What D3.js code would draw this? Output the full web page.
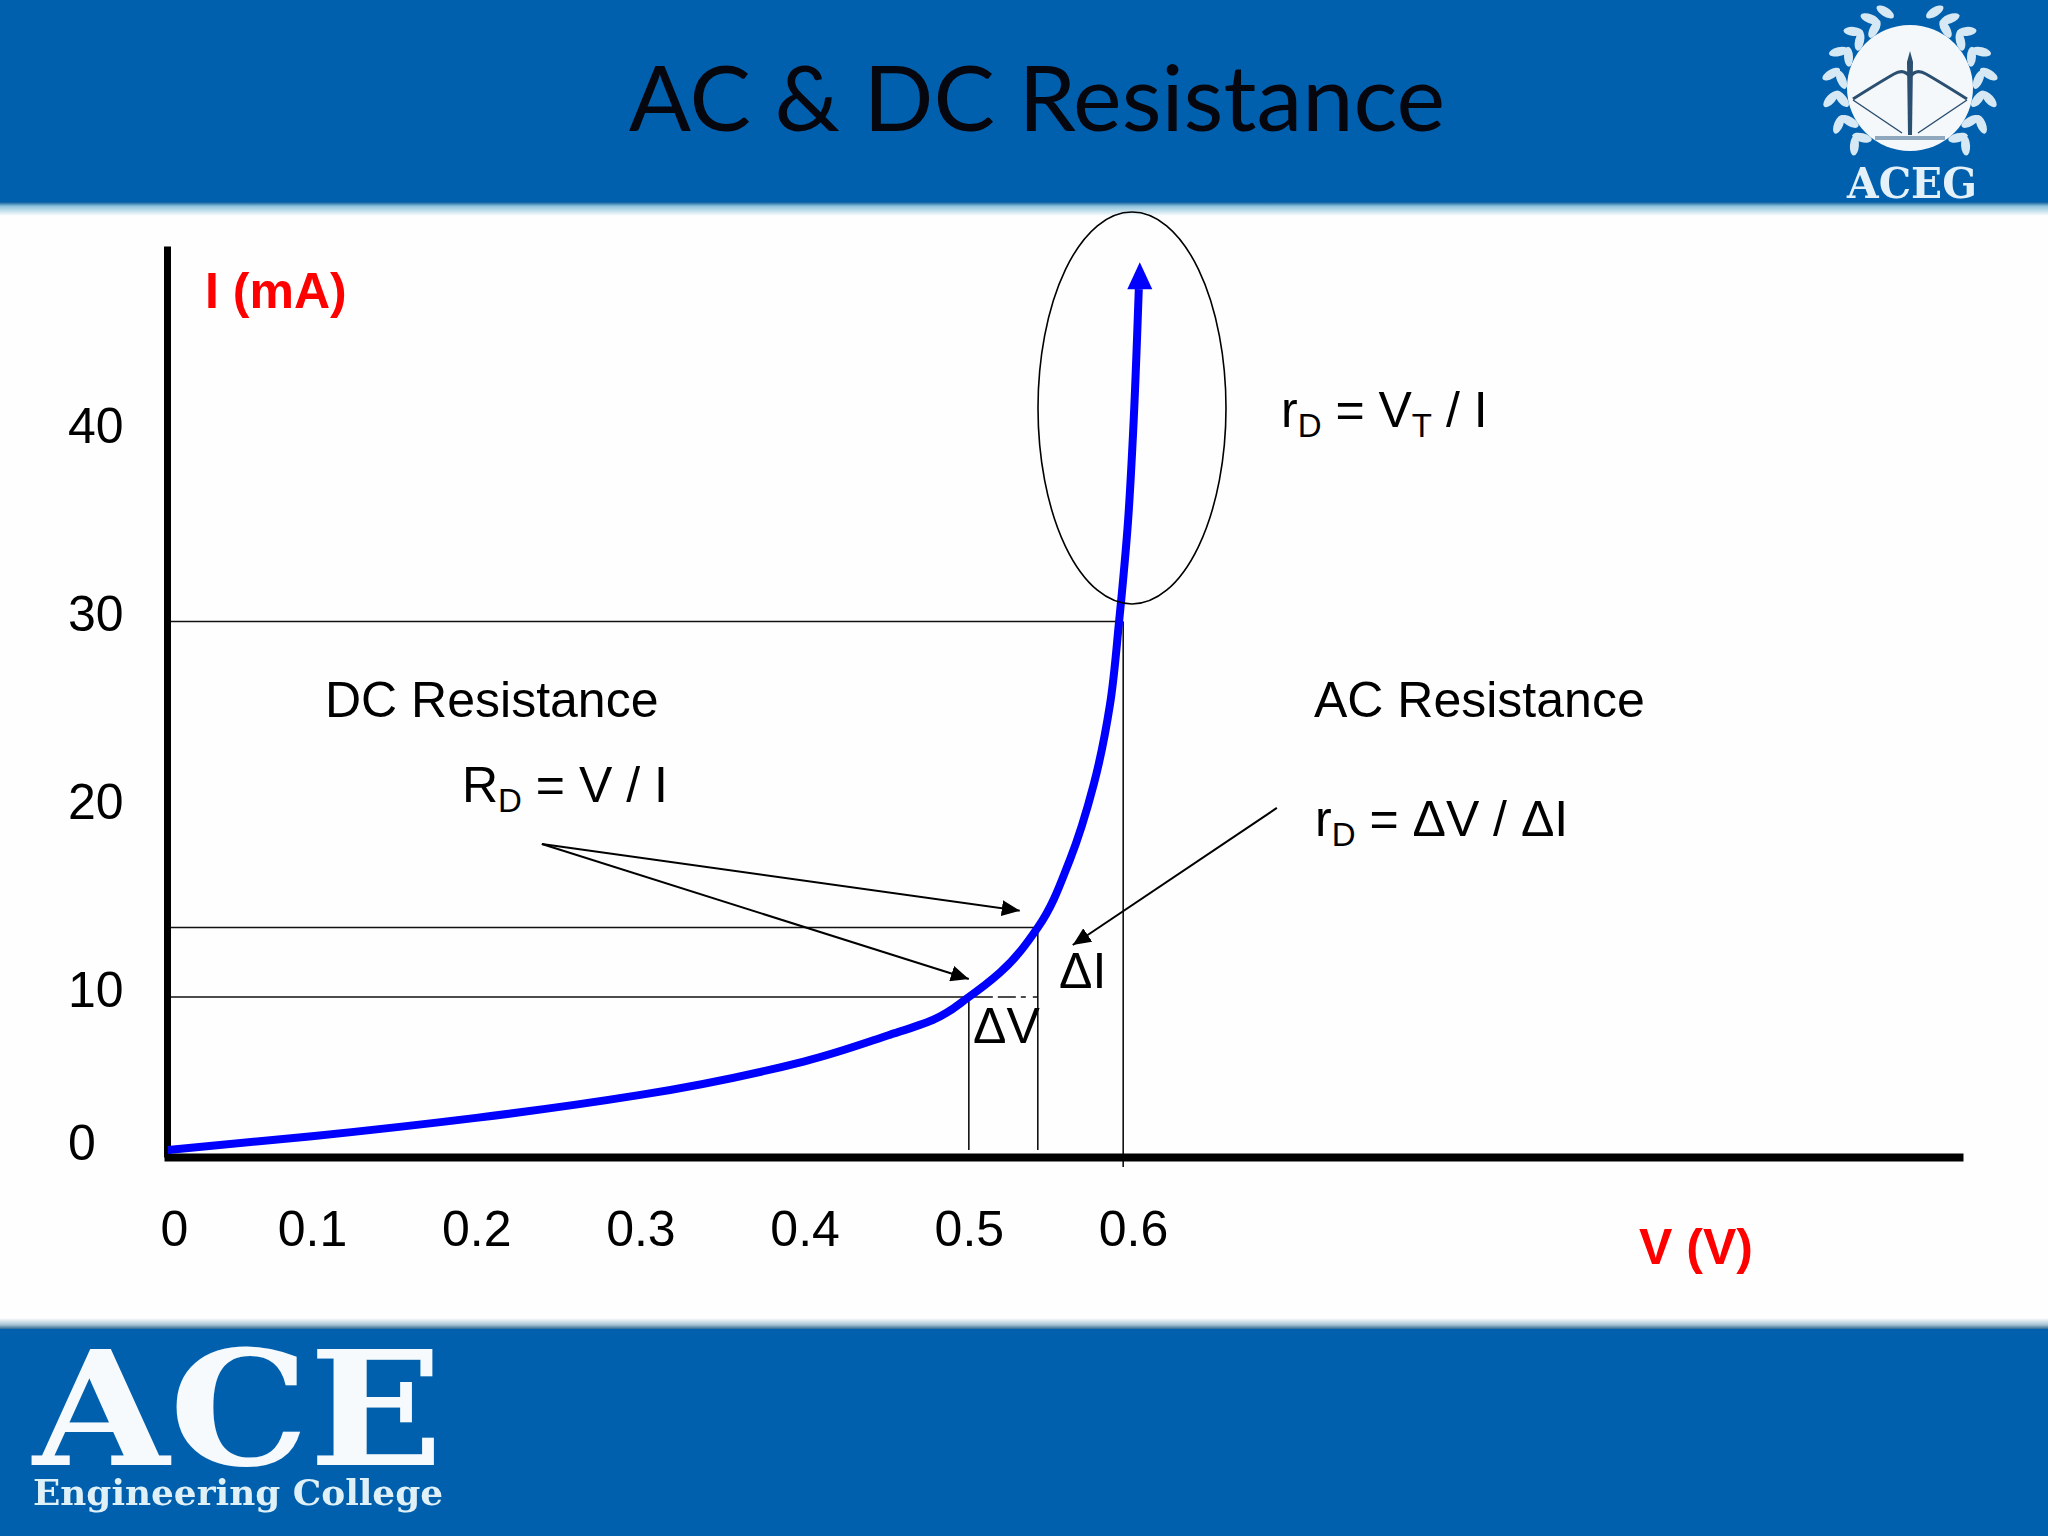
<!DOCTYPE html>
<html>
<head>
<meta charset="utf-8">
<title>AC & DC Resistance</title>
<script src="https://cdn.jsdelivr.net/npm/d3@7"></script>
<style>
    body { margin: 0; background: #fff; }
    text { font-family: "Liberation Sans", Arial, sans-serif; }
</style>
</head>
<body>
<div id="chart"></div>
<script>
// diode curve
const curveV = [0, 0.1, 0.2, 0.3, 0.4, 0.451, 0.478, 0.5, 0.519, 0.542, 0.5615, 0.576, 0.586, 0.5915, 0.597, 0.6, 0.6035];
const curveI = [0, 0.9, 2.1, 3.6, 5.8, 7.5, 8.5, 10, 11.3, 13.7, 17.3, 21.3, 25.6, 30, 35.4, 40, 47.7];

const xTicks = [0, 0.1, 0.2, 0.3, 0.4, 0.5, 0.6];
const yTicks = [0, 10, 20, 30, 40];

// operating points that get guide lines
const guideV = [0.5, 0.542, 0.594];
const guideI = [10, 13.7, 30];

// arrows: from [v, i] to [v, i]
const arrowFrom = [[0.24, 18.15], [0.24, 18.15], [0.6876, 20.07]];
const arrowTo = [[0.531, 14.6], [0.5, 10.96], [0.5633, 12.77]];

const width = 2048, height = 1536;

const svg = d3.select('#chart').append('svg')
    .attr('width', width)
    .attr('height', height)
    .style('display', 'block');

const defs = svg.append('defs');

const fadeTop = defs.append('linearGradient').attr('id', 'fadeTop').attr('x2', 0).attr('y2', 1);
fadeTop.append('stop').attr('offset', 0).attr('stop-color', '#0a5c9c');
fadeTop.append('stop').attr('offset', 0.3).attr('stop-color', '#8fc3dc');
fadeTop.append('stop').attr('offset', 1).attr('stop-color', '#ffffff');

const fadeBottom = defs.append('linearGradient').attr('id', 'fadeBottom').attr('x2', 0).attr('y2', 1);
fadeBottom.append('stop').attr('offset', 0).attr('stop-color', '#ffffff');
fadeBottom.append('stop').attr('offset', 0.6).attr('stop-color', '#a9c6d6');
fadeBottom.append('stop').attr('offset', 1).attr('stop-color', '#2f6a92');

defs.append('filter').attr('id', 'soft')
    .append('feGaussianBlur').attr('stdDeviation', 0.7);

defs.append('marker').attr('id', 'head')
    .attr('viewBox', '0 0 18 16')
    .attr('refX', 18).attr('refY', 8)
    .attr('markerWidth', 18).attr('markerHeight', 16)
    .attr('markerUnits', 'userSpaceOnUse')
    .attr('orient', 'auto')
    .append('path').attr('d', 'M0,0L18,8L0,16Z').attr('fill', '#000');

// banners
const bannerColor = '#0060ae';
svg.append('rect').attr('width', width).attr('height', height).attr('fill', '#fefefe');
svg.append('rect').attr('width', width).attr('height', 202).attr('fill', bannerColor);
svg.append('rect').attr('y', 202).attr('width', width).attr('height', 14).attr('fill', 'url(#fadeTop)');
svg.append('rect').attr('y', 1318).attr('width', width).attr('height', 11).attr('fill', 'url(#fadeBottom)');
svg.append('rect').attr('y', 1329).attr('width', width).attr('height', 207).attr('fill', bannerColor);

svg.append('text')
    .attr('x', 1037).attr('y', 131)
    .attr('text-anchor', 'middle')
    .style('font-family', 'Lato')
    .style('font-size', '92px')
    .attr('fill', '#06060e')
    .text('AC & DC Resistance');

// scales have a short first segment, the picture's 0 sits closer than the rest
const x = d3.scaleLinear().domain([0, 0.1, 1.103]).range([168, 312, 1959]);
const y = d3.scaleLinear().domain([-0.46, 0, 10, 50]).range([1157, 1150, 997, 246]);

// guide lines
const guides = svg.append('g').attr('stroke', '#111').attr('stroke-width', 1.6).attr('fill', 'none');
guideI.forEach((d, i) => {
    guides.append('line')
        .attr('x1', 170).attr('x2', x(guideV[i]))
        .attr('y1', y(d)).attr('y2', y(d));
    guides.append('line')
        .attr('x1', x(guideV[i])).attr('x2', x(guideV[i]))
        .attr('y1', y(d)).attr('y2', i == 2 ? y(0) + 17 : y(0));
});
// the dash-dot bit between the 0.5 and 0.542 guides
guides.append('line')
    .attr('x1', x(guideV[0])).attr('x2', x(guideV[1]))
    .attr('y1', y(guideI[0])).attr('y2', y(guideI[0]))
    .attr('stroke-dasharray', '24 5 18 5 5 7 18 0');

// axes
const xAxis = svg.append('g')
    .attr('transform', `translate(0,${y(-0.46)})`)
    .call(d3.axisBottom(x).tickValues(xTicks).tickSize(0).tickFormat(d => '' + d));
xAxis.select('.domain').attr('stroke', '#000').attr('stroke-width', 8).attr('stroke-linecap', 'square');
xAxis.selectAll('text')
    .attr('y', 89).attr('dy', 0)
    .attr('dx', d => d == 0 ? 6 : 0)
    .attr('fill', '#000')
    .style('font-family', '"Liberation Sans"')
    .style('font-size', '50px');

const yAxis = svg.append('g')
    .attr('transform', `translate(167,0)`)
    .call(d3.axisLeft(y).tickValues(yTicks).tickSize(0).tickFormat(d => '' + d));
yAxis.select('.domain').attr('stroke', '#000').attr('stroke-width', 7);
yAxis.selectAll('text')
    .attr('x', -99).attr('dy', 0).attr('y', 9)
    .attr('text-anchor', 'start')
    .attr('fill', '#000')
    .style('font-family', '"Liberation Sans"')
    .style('font-size', '50px');

// curve
const curveLine = d3.line()
    .x((d, i) => x(curveV[i]))
    .y(d => y(d))
    .curve(d3.curveMonotoneY);

svg.append('path')
    .datum(curveI)
    .attr('d', curveLine)
    .attr('fill', 'none')
    .attr('stroke', '#0000ff')
    .attr('stroke-width', 8);

// arrow tip on the curve end
const endX = x(curveV[curveV.length - 1]), endY = y(curveI[curveI.length - 1]);
svg.append('path')
    .attr('d', `M${endX + 1},${endY - 27}L${endX + 13.5},${endY}L${endX - 11.5},${endY}Z`)
    .attr('fill', '#0000ff');

// ellipse round the steep part
svg.append('ellipse')
    .attr('cx', 1132).attr('cy', 408)
    .attr('rx', 94).attr('ry', 196)
    .attr('fill', 'none')
    .attr('stroke', '#000')
    .attr('stroke-width', 1.6);

// annotation arrows
arrowFrom.forEach((d, i) => {
    svg.append('line')
        .attr('x1', x(d[0])).attr('y1', y(d[1]))
        .attr('x2', x(arrowTo[i][0])).attr('y2', y(arrowTo[i][1]))
        .attr('stroke', '#000')
        .attr('stroke-width', 2)
        .attr('marker-end', 'url(#head)');
});

// text pieces, a piece with sub=true goes in as a subscript
function label(px, py, parts, color, bold) {
    const t = svg.append('text')
        .attr('x', px).attr('y', py)
        .attr('fill', color || '#000')
        .style('font-size', '50px')
        .style('font-weight', bold ? 'bold' : 'normal');
    let shift = 0;
    parts.forEach(p => {
        const sub = p.sub ? 10 : 0;
        t.append('tspan')
            .attr('dy', sub - shift)
            .style('font-size', p.sub ? '33px' : null)
            .text(p.text);
        shift = sub;
    });
}

label(205, 308, [{ text: 'I (mA)' }], '#ff0000', true);
label(1639, 1264, [{ text: 'V (V)' }], '#ff0000', true);
label(325, 717, [{ text: 'DC Resistance' }]);
label(1314, 717, [{ text: 'AC Resistance' }]);
label(462, 802, [{ text: 'R' }, { text: 'D', sub: true }, { text: ' = V / I' }]);
label(1281, 427, [{ text: 'r' }, { text: 'D', sub: true }, { text: ' = V' }, { text: 'T', sub: true }, { text: ' / I' }]);
label(1315, 836, [{ text: 'r' }, { text: 'D', sub: true }, { text: ' = ΔV / ΔI' }]);
label(973, 1043, [{ text: 'ΔV' }]);
label(1059, 988, [{ text: 'ΔI' }]);

// college crest, top right
const outerLeaves = [18, 30, 45, 63, 80, 98, 117, 136];
const innerLeaves = [31, 47, 63, 83, 99, 119, 136];

const crest = svg.append('g').attr('transform', 'translate(1910,88)').attr('filter', 'url(#soft)');
crest.append('circle').attr('r', 63).attr('fill', '#f4f8fb');
crest.append('circle').attr('r', 54).attr('fill', 'none')
    .attr('stroke', '#8fa8bd').attr('stroke-width', 4).attr('stroke-dasharray', '3 2')
    .attr('pathLength', 300);

[-1, 1].forEach(side => {
    const leaf = (a, r, tilt) => {
        const rad = a * Math.PI / 180;
        crest.append('ellipse')
            .attr('rx', 10).attr('ry', 4.5)
            .attr('fill', '#d5e8f3')
            .attr('transform', `translate(${side * r * Math.sin(rad)},${-r * Math.cos(rad)}) rotate(${side * (a + tilt)})`);
    };
    outerLeaves.forEach(a => leaf(a, 80, -50));
    innerLeaves.forEach(a => leaf(a, 69, 30));
});
// cover leaves that run into the disc
crest.append('circle').attr('r', 60).attr('fill', '#f4f8fb');

// the bow
const bowColor = '#2c4f70';
crest.append('path').attr('d', 'M-57,11Q-30,-6,-16,-14Q-6,-20,0,-11Q6,-20,16,-14Q30,-6,57,11')
    .attr('fill', 'none').attr('stroke', bowColor).attr('stroke-width', 3);
crest.append('path').attr('d', 'M-57,12L-8,45M57,12L8,45')
    .attr('fill', 'none').attr('stroke', bowColor).attr('stroke-width', 1.5);
crest.append('path').attr('d', 'M0,-37L3,-26L2,47L-2,47L-3,-26Z').attr('fill', bowColor);
crest.append('path').attr('d', 'M-35,50H35').attr('stroke', '#8fa8bd').attr('stroke-width', 4);

svg.append('text')
    .attr('x', 1847).attr('y', 198)
    .attr('textLength', 130).attr('lengthAdjust', 'spacingAndGlyphs')
    .attr('filter', 'url(#soft)')
    .attr('fill', '#e4f1f8')
    .style('font-family', '"DejaVu Serif"').style('font-weight', 'bold').style('font-size', '42px')
    .text('ACEG');

// college name, bottom left
svg.append('text')
    .attr('x', 33).attr('y', 1465)
    .attr('textLength', 410).attr('lengthAdjust', 'spacingAndGlyphs')
    .attr('filter', 'url(#soft)')
    .attr('fill', '#f6fafc')
    .style('font-family', '"DejaVu Serif"').style('font-weight', 'bold').style('font-size', '160px')
    .text('ACE');
svg.append('text')
    .attr('x', 33).attr('y', 1505)
    .attr('textLength', 410).attr('lengthAdjust', 'spacingAndGlyphs')
    .attr('filter', 'url(#soft)')
    .attr('fill', '#e0f0f7')
    .style('font-family', '"DejaVu Serif"').style('font-weight', 'bold').style('font-size', '36px')
    .text('Engineering College');
</script>
</body>
</html>
